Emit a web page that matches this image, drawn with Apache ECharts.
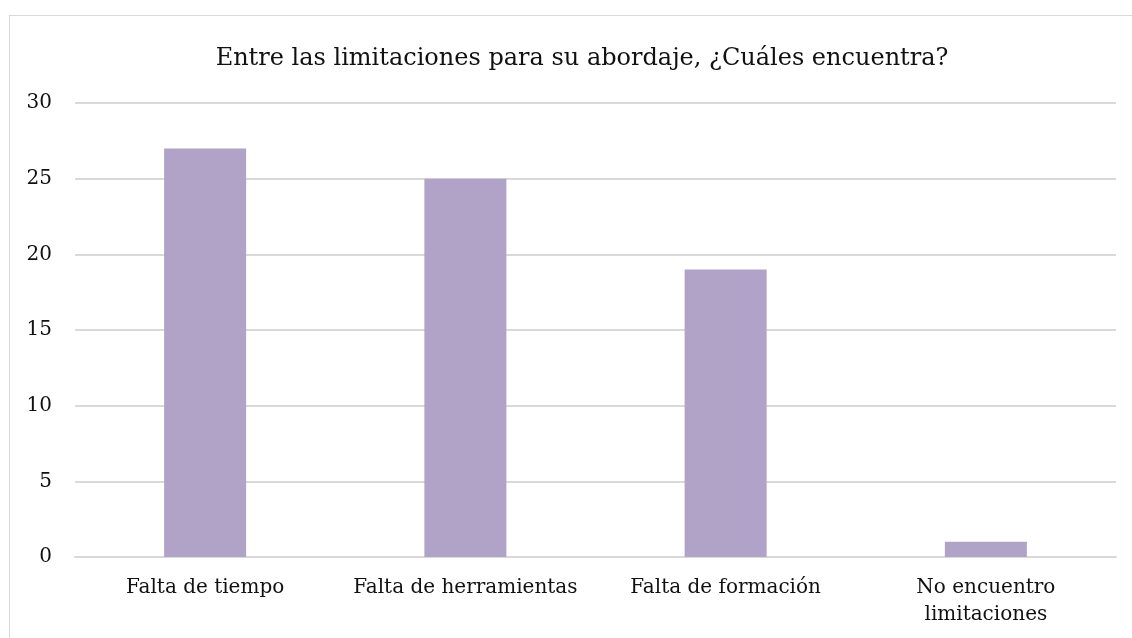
<!DOCTYPE html>
<html>
<head>
  <meta charset="UTF-8" />
  <title></title>
  <style type="text/css">
    * {
      margin: 0;
      padding: 0;
    }
    body {
      width: 1132px;
      height: 638px;
      background: #fff;
      position: relative;
      overflow: hidden;
    }
    .frame {
      position: absolute;
      left: 9px;
      top: 15px;
      width: 1200px;
      height: 700px;
      border: 1px solid #d9d9d9;
    }
    #main {
      position: absolute;
      left: 0;
      top: 0;
      width: 1132px;
      height: 638px;
    }
  </style>
</head>
<body>
  <div class="frame"></div>
  <div id="main"></div>
  <script src="https://cdn.jsdelivr.net/npm/echarts@6/dist/echarts.min.js"></script>
  <script type="text/javascript">
    let titleText = 'Entre las limitaciones para su abordaje, ¿Cuáles encuentra?'
    let categories = ['Falta de tiempo', 'Falta de herramientas', 'Falta de formación', 'No encuentro\nlimitaciones']
    let values = [27, 25, 19, 1]

    let font = 'DejaVu Serif'
    let myChart = echarts.init(document.getElementById('main'))
    let option = {
      backgroundColor: 'transparent',
      title: {
        text: titleText,
        left: 577,
        textAlign: 'center',
        top: 42,
        textStyle: {
          fontFamily: font,
          fontSize: 24,
          fontWeight: 'normal',
          color: '#111'
        }
      },
      grid: {
        left: 75,
        right: 16,
        top: 103,
        bottom: 81
      },
      xAxis: {
        type: 'category',
        data: categories,
        axisLine: { lineStyle: { color: '#d9d9d9', width: 2 } },
        axisTick: { show: false },
        axisLabel: {
          margin: 17,
          fontFamily: font,
          fontSize: 20,
          lineHeight: 27,
          color: '#111',
          interval: 0
        }
      },
      yAxis: {
        type: 'value',
        min: 0,
        max: 30,
        interval: 5,
        axisLine: { show: false },
        axisTick: { show: false },
        splitLine: { lineStyle: { color: '#d9d9d9', width: 2 } },
        axisLabel: {
          margin: 23,
          fontFamily: font,
          fontSize: 20,
          color: '#111'
        }
      },
      series: [{
        type: 'bar',
        data: values,
        barWidth: 82,
        itemStyle: { color: '#b1a2c8' },
        silent: true
      }]
    }
    myChart.setOption(option)
  </script>
</body>
</html>
